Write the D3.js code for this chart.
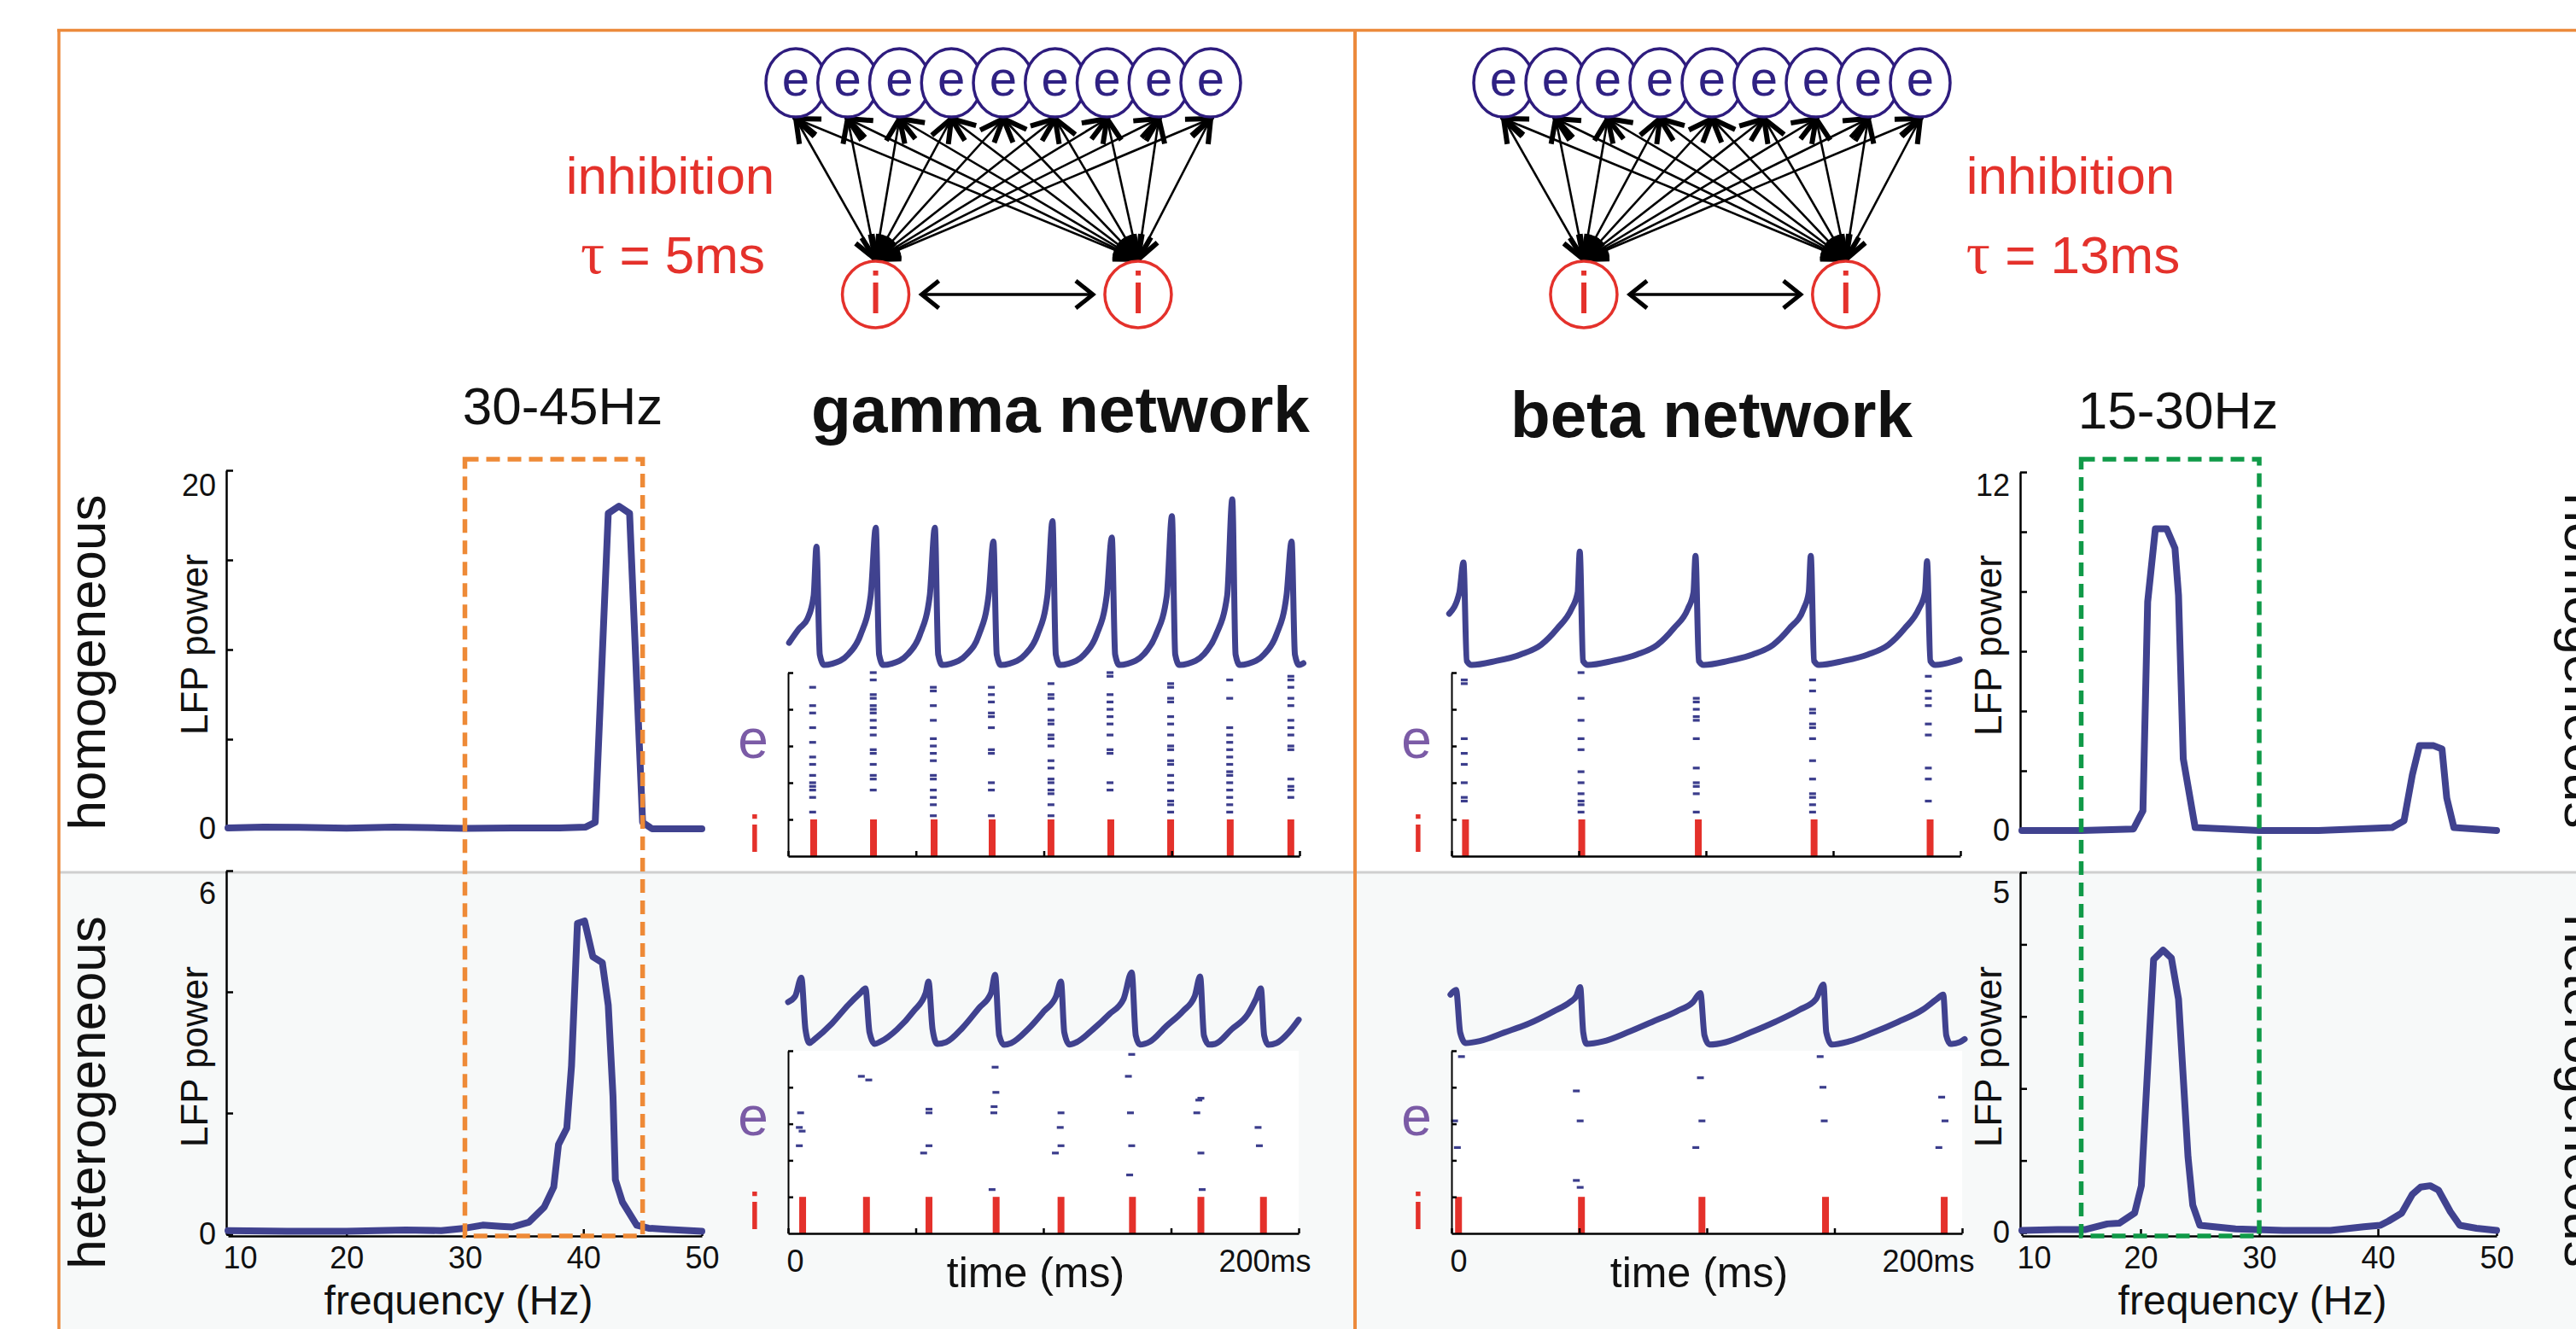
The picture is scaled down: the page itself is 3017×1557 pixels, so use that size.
<!DOCTYPE html>
<html><head><meta charset="utf-8">
<script src="https://cdn.jsdelivr.net/npm/d3@7"></script>
<style>
html,body{margin:0;padding:0;background:#fff;}
svg{display:block;}
</style></head><body>
<svg id="fig" width="3017" height="1557"></svg>
<script>
// ================= DATA =================
const freqTicks = [10, 20, 30, 40, 50];
const gammaBand = [30, 45];
const betaBand = [15, 30];
const bandLabels = ["30-45Hz", "15-30Hz"];
const netTitles = ["gamma network", "beta network"];
const rowLabels = ["homogeneous", "heterogeneous"];
const inhibitionLabel = "inhibition";
const tauValues = ["5ms", "13ms"];
const eCells = ["e","e","e","e","e","e","e","e","e"];
const iCells = ["i","i"];

// LFP power spectra: [frequency (Hz), power]
const specGammaHom = [[10,0.05],[13,0.1],[16,0.08],[20,0.04],[24,0.1],[28,0.05],[30,0.02],[34,0.05],[38,0.05],[40.2,0.1],[41,0.36],[42.1,17.6],[43,18],[43.9,17.6],[45,0.36],[45.8,0],[50,0]];
const specBetaHom = [[10,0],[15,0],[19.4,0.05],[20.2,0.66],[20.6,7.65],[21.25,10.1],[22.2,10.1],[22.9,9.45],[23.2,7.87],[23.6,2.4],[24.6,0.1],[30,0],[35,0],[41.2,0.1],[42.2,0.33],[42.9,1.86],[43.5,2.84],[44.7,2.84],[45.4,2.73],[45.8,1.09],[46.4,0.1],[50,0]];
const specGammaHet = [[10,0.06],[15,0.05],[20,0.05],[25,0.07],[28,0.06],[30,0.1],[31.5,0.15],[33,0.13],[34,0.12],[35.4,0.2],[36.7,0.45],[37.5,0.78],[37.9,1.48],[38.6,1.75],[39,2.78],[39.5,5.13],[40.1,5.17],[40.8,4.58],[41.6,4.48],[42.1,3.78],[42.5,2.28],[42.7,0.9],[43.3,0.53],[44.5,0.15],[45.5,0.1],[47,0.08],[50,0.05]];
const specBetaHet = [[10,0.03],[13,0.04],[15.3,0.04],[17.2,0.12],[18.2,0.13],[19.5,0.27],[20.07,0.65],[20.4,1.68],[21.1,3.79],[21.9,3.92],[22.6,3.81],[23.2,3.24],[24.0,1.05],[24.4,0.38],[25.0,0.1],[28,0.05],[32,0.03],[36,0.03],[38.8,0.08],[40.2,0.1],[40.9,0.16],[42.0,0.27],[42.9,0.53],[43.6,0.63],[44.4,0.65],[45.1,0.59],[46.1,0.29],[46.9,0.1],[48.3,0.06],[50,0.03]];

const yTicksGammaHom = [0,5,10,15,20];
const yTicksBetaHom = [0,2,4,6,8,10,12];
const yTicksGammaHet = [0,2,4,6];
const yTicksBetaHet = [0,1,2,3,4,5];

// time axes
const timeTicks = [0, 50, 100, 150, 200];
const timeTickLabels = ["0", "", "", "", "200ms"];
const rasterTicks = [10, 20, 30, 40, 50];
const iBand = [0, 10];

// LFP traces: [time (ms), LFP (a.u.)]
const lfpGammaHom = [[0.4,13.5],[4.4,21.9],[7.6,27.6],[10.0,41],[11.1,69.8],
[12.4,6.6],[14.0,0.5],[17.2,1.2],[23.5,6.6],[28.3,18],[32.3,41],[34.3,80.9],
[35.6,6.6],[37.2,0.5],[40.4,1.2],[46.7,6.6],[51.5,18],[55.4,41],[57.4,80.9],
[58.7,6.6],[60.3,0.5],[63.5,1.2],[69.8,6.6],[74.6,18],[78.4,41],[80.3,72.7],
[81.6,6.6],[83.2,0.5],[86.4,1.2],[92.7,6.6],[97.5,18],[101.4,41],[103.4,84.7],
[104.7,6.6],[106.3,0.5],[109.5,1.2],[115.8,6.6],[120.6,18],[124.6,41],[126.6,75.1],
[127.9,6.6],[129.5,0.5],[132.7,1.2],[139.0,6.6],[143.8,18],[148.1,41],[150.1,87.6],
[151.4,6.6],[153.0,0.5],[156.2,1.2],[162.5,6.6],[167.3,18],[171.7,41],[173.7,97.5],
[175.0,6.6],[176.6,0.5],[179.8,1.2],[186.1,6.6],[190.9,18],[194.9,41],[196.9,72.7],
[198.2,6.6],[199.8,0.5],[201.5,1.5]];
const lfpBetaHom = [[-0.9,30.5],[3.1,43],[4.7,60.5],
[6.0,2.8],[7.9,0.5],[17.5,2.8],[27.2,6.6],[35.2,12.3],[41.6,21.9],[47.2,33.4],[49.6,43],[50.4,66.9],
[51.7,2.8],[53.6,0.5],[63.2,2.8],[72.9,6.6],[80.9,12.3],[87.3,21.9],[92.9,33.4],[95.1,43],[95.9,64.4],
[97.2,2.8],[99.1,0.5],[108.7,2.8],[118.4,6.6],[126.4,12.3],[132.8,21.9],[138.4,33.4],[140.4,43],[141.2,64.4],
[142.5,2.8],[144.4,0.5],[154.0,2.8],[163.7,6.6],[171.7,12.3],[178.1,21.9],[183.7,33.4],[186.1,43],[186.9,61.2],
[188.2,2.8],[190.1,0.5],[199.7,3.7]];
const lfpGammaHet = [[0,25],[2.8,28.5],[5.2,39.2],[6.8,9],[8.4,1],[10,2.8],[17.2,12.5],[23.5,23.2],[28.3,30.3],[30.3,33],
[31.9,7.2],[33.9,0.5],[36.3,1.9],[42.7,9],[49.1,19.6],[53.9,30.3],[55,37],
[56.6,9],[58.4,0.5],[61.9,1.5],[68.3,9.9],[74.7,21.4],[79.5,30.3],[81.1,41],
[82.7,5.4],[84.6,0],[87.4,1],[93.9,9],[100.2,19.6],[105,28.5],[106.9,37],
[108.2,7.2],[110.2,0.1],[113,1.5],[119.4,9],[125.8,17.9],[131.4,26.8],[134.6,42.4],
[136.2,5.4],[137.8,0.1],[141.8,1.9],[148.1,10.8],[154.6,19.6],[159.3,28.5],[161.4,40],
[162.9,5.4],[164.9,0.1],[167.3,0.5],[173.7,9],[180.1,17.9],[183.3,26.8],[185.2,33],
[186.5,5.4],[188.1,0],[191.3,1],[196.1,7.2],[200,14.7]];
const lfpBetaHet = [[-0.4,29.4],[1.8,32.1],[3.4,7.2],[5.5,1],[11.1,2.2],[20.7,7.2],[30.4,12.5],[40,19.6],[46.4,25],[48.9,28.5],[50.4,33.8],
[51.6,7.2],[52.9,0.5],[59.3,1.9],[68.9,7.2],[78.6,13.4],[88.2,19.6],[94.6,25],[97.5,30.3],
[99.1,5.4],[101,0.1],[107.4,1.5],[117.1,7.2],[126.7,13.4],[136.3,20.5],[142.8,26.8],[145.7,35.3],
[146.8,7.2],[148.9,0.1],[155.6,1.9],[165.2,7.2],[174.9,13.4],[184.5,20.5],[190.1,26.8],[192.6,29.4],
[193.8,5.4],[195.4,0.5],[199,1.5],[201,3.3]];

// inhibitory population spikes (ms)
const iSpikesGammaHom = [10.0, 33.4, 57.1, 79.8, 102.8, 126.2, 149.6, 172.9, 196.6];
const iSpikesBetaHom = [5.5, 51.2, 97.0, 142.5, 188.1];
const iSpikesGammaHet = [5.7, 30.7, 55.2, 81.5, 106.9, 134.9, 161.7, 186.2];
const iSpikesBetaHet = [2.75, 50.9, 98.1, 146.5, 193.0];

// excitatory spikes, homogeneous: per volley, time (ms) and cell indices
const eVolleysGammaHom = [
 {t:9.6, cells:[46,41,39,35,31,27,25,22,20,19,18,16,12]},
 {t:33.3, cells:[50,48,44,43,41,40,39,37,35,33,29,28,25,22,21,18]},
 {t:56.8, cells:[46,45,41,37,32,30,28,26,22,21,18,16,14,11]},
 {t:79.5, cells:[46,44,42,39,38,35,29,28,20,18,11]},
 {t:102.8, cells:[47,44,43,40,37,36,33,32,30,26,24,21,20,18,17,14,11]},
 {t:125.9, cells:[50,49,44,42,40,38,36,33,29,28,20,18]},
 {t:149.6, cells:[47,46,43,42,38,36,33,30,29,26,25,22,20,18,15,14,12]},
 {t:172.7, cells:[48,43,35,33,31,29,27,25,23,22,20,18,16,14,12]},
 {t:196.6, cells:[49,48,46,43,41,37,35,33,30,29,21,19,18,16]}
];
const eVolleysBetaHom = [
 {t:5.0, cells:[48,47,32,28,25,20,16,15]},
 {t:50.9, cells:[50,43,37,32,29,23,20,17,15,14,12]},
 {t:96.2, cells:[43,42,40,38,37,32,24,20,19,17,12]},
 {t:141.9, cells:[48,45,40,39,36,35,32,26,21,17,16,14,12]},
 {t:187.4, cells:[49,45,43,41,36,33,24,21,15]}
];
// excitatory spikes, heterogeneous: [time (ms), cell]
const eSpikesGammaHet = [[4.9,33],[4.4,29],[5.5,28],[4.4,24],[28.7,43],[31.6,42],[55.2,34],[55.2,33],[55.2,24],[53.1,22],
 [81.1,45.5],[81.4,38.6],[80.7,34.7],[80.6,33],[79.9,12],[106.9,33],[106.6,29],[106.9,24],[104.7,22],
 [134.6,49],[133.3,43],[134.1,33],[134.6,24],[133.8,16],[160.9,36.5],[161.7,37],[160.1,33],[161.7,22],[162.2,12],
 [184.1,29],[184.6,24]];
const eSpikesBetaHet = [[3.9,48.4],[1.2,30.8],[2.3,23.5],[48.9,39],[50.4,30.8],[48.9,14.5],[50.4,12.6],
 [97.5,42.6],[98.1,30.8],[95.7,23.5],[144.4,48.4],[145.5,40],[146,30.8],[192,37.3],[193.3,30.8],[190.9,23.5]];

// ================= DRAWING =================
const FONT = "'Liberation Sans', Arial, Helvetica, sans-serif";
const COL = {line:"#40428f", dash:"#3b3d8c", red:"#e4312b", orange:"#ee8a37", green:"#109a48",
             purple:"#7b5ba6", eNode:"#2e1c7e", eText:"#2f2183", frame:"#ec8a3c", sep:"#cfcfcf"};

const svg = d3.select("#fig").attr("font-family", FONT);
svg.append("rect").attr("width", 3017).attr("height", 1557).attr("fill", "#fff");
svg.append("rect").attr("x", 69).attr("y", 1022).attr("width", 2948).attr("height", 535).attr("fill", "#f7f9f9");
svg.append("line").attr("x1", 69).attr("x2", 3017).attr("y1", 1022).attr("y2", 1022)
   .attr("stroke", COL.sep).attr("stroke-width", 3);

const defs = svg.append("defs");
defs.append("marker").attr("id", "ah").attr("viewBox", "-4 -16 36 32").attr("refX", 28).attr("refY", 0)
  .attr("markerWidth", 36).attr("markerHeight", 32).attr("markerUnits", "userSpaceOnUse")
  .attr("orient", "auto-start-reverse")
  .append("path").attr("d", "M0,-11L28,0L0,11").attr("fill", "none").attr("stroke", "#000")
  .attr("stroke-width", 6).attr("stroke-linejoin", "miter");
defs.append("marker").attr("id", "chev").attr("viewBox", "-4 -20 30 40").attr("refX", 20).attr("refY", 0)
  .attr("markerWidth", 30).attr("markerHeight", 40).attr("markerUnits", "userSpaceOnUse")
  .attr("orient", "auto-start-reverse")
  .append("path").attr("d", "M0,-16L20,0L0,16").attr("fill", "none").attr("stroke", "#000").attr("stroke-width", 5);

function styleAxis(sel, fs) {
  sel.attr("font-size", fs).attr("font-family", FONT);
  sel.select(".domain").attr("stroke", "#000").attr("stroke-width", 2.5);
  sel.selectAll(".tick line").attr("stroke", "#000").attr("stroke-width", 2.5);
  sel.selectAll(".tick text").attr("fill", "#111");
}

function drawSpectrum(p) {
  const x = d3.scaleLinear().domain(d3.extent(freqTicks)).range(p.xr);
  const yMax = d3.max(p.yTicks);
  const y = d3.scaleLinear().domain([0, yMax]).range(p.yr);
  const g = svg.append("g");
  const ay = g.append("g").attr("transform", `translate(${p.xr[0] - 2},0)`)
    .call(d3.axisLeft(y).tickValues(p.yTicks).tickSize(-8).tickSizeOuter(0).tickPadding(12)
      .tickFormat(d => (d === 0 || d === yMax) ? d : ""));
  styleAxis(ay, 36);
  ay.selectAll(".tick text").filter(d => d === yMax).attr("dy", p.topDy);
  if (p.xAxisY) {
    const ax = g.append("g").attr("transform", `translate(0,${p.xAxisY})`)
      .call(d3.axisBottom(x).tickValues(freqTicks).tickSize(-8).tickSizeOuter(0).tickPadding(12));
    styleAxis(ax, 36);
    ax.selectAll(".tick text").filter(d => d === freqTicks[0]).attr("dx", 14);
    g.append("text").attr("x", p.xLabelX).attr("y", 1540).attr("text-anchor", "middle")
      .attr("font-size", 48).attr("fill", "#111").text("frequency (Hz)");
  }
  g.append("text").attr("transform", `translate(${p.xr[0] - 24},${p.labelY}) rotate(-90)`)
    .attr("text-anchor", "middle").attr("font-size", 44).attr("fill", "#111").text("LFP power");
  g.append("path").datum(p.data).attr("fill", "none").attr("stroke", COL.line).attr("stroke-width", 8)
    .attr("stroke-linejoin", "round").attr("stroke-linecap", "round")
    .attr("d", d3.line().x(d => x(d[0])).y(d => y(d[1])));
  return x;
}

function drawTimePanel(p) {
  const x = d3.scaleLinear().domain(d3.extent(timeTicks)).range(p.xr);
  const yv = d3.scaleLinear().domain([0, 100]).range(p.lfpYr);
  const yr = d3.scaleLinear().domain([0, d3.max(rasterTicks)]).range(p.rasterYr);
  const g = svg.append("g");
  if (p.bg) g.append("rect").attr("x", p.xr[0]).attr("y", p.rasterYr[1]).attr("width", p.xr[1] - p.xr[0])
      .attr("height", p.rasterYr[0] - p.rasterYr[1]).attr("fill", "#fff");
  g.selectAll("rect.espk").data(p.eSpikes).join("rect").attr("class", "espk")
    .attr("x", d => x(d[0]) - 4).attr("y", d => yr(d[1]) - 1.6).attr("width", 8).attr("height", 3.2)
    .attr("fill", COL.dash);
  g.selectAll("rect.ispk").data(p.iSpikes).join("rect").attr("class", "ispk")
    .attr("x", d => x(d) - 4).attr("y", yr(iBand[1])).attr("width", 8)
    .attr("height", yr(iBand[0]) - yr(iBand[1])).attr("fill", COL.red);
  const ay = g.append("g").attr("transform", `translate(${p.xr[0]},0)`)
    .call(d3.axisLeft(yr).tickValues(rasterTicks).tickSize(-6).tickSizeOuter(0).tickFormat(""));
  styleAxis(ay, 36);
  ay.select(".domain").attr("stroke-width", 2);
  const ax = g.append("g").attr("transform", `translate(0,${p.rasterYr[0]})`)
    .call(d3.axisBottom(x).tickValues(timeTicks).tickSize(-6).tickSizeOuter(0).tickPadding(19)
      .tickFormat((d, k) => p.showTime ? timeTickLabels[k] : ""));
  styleAxis(ax, 36);
  if (p.showTime) {
    ax.selectAll(".tick text").filter((d, k) => k === 0).attr("dx", 8);
    ax.selectAll(".tick text").filter((d, k) => k === timeTicks.length - 1).attr("text-anchor", "end").attr("dx", 14);
    g.append("text").attr("x", (p.xr[0] + p.xr[1]) / 2 - 9).attr("y", 1508).attr("text-anchor", "middle")
      .attr("font-size", 50).attr("fill", "#111").text("time (ms)");
  }
  g.append("path").datum(p.lfp).attr("fill", "none").attr("stroke", COL.line).attr("stroke-width", 7)
    .attr("stroke-linejoin", "round").attr("stroke-linecap", "round")
    .attr("d", d3.line().curve(d3.curveMonotoneX).x(d => x(d[0])).y(d => yv(d[1])));
  g.append("text").attr("x", p.xr[0] - 41).attr("y", yr(0) - 115).attr("text-anchor", "middle")
    .attr("font-size", 64).attr("fill", COL.purple).text("e");
  g.append("text").attr("x", p.xr[0] - 39).attr("y", yr(0) - 5).attr("text-anchor", "middle")
    .attr("font-size", 62).attr("fill", COL.red).text("i");
}

function drawNetwork(p) {
  const NET = {ey: 97, erx: 35, ery: 40, iy: 345, ir: 39};
  const ex = d3.scaleLinear().domain([0, eCells.length - 1]).range(p.eRange);
  const g = svg.append("g");
  const ePts = eCells.map((c, k) => ({c, x: ex(k)}));
  const iPts = iCells.map((c, k) => ({c, x: ex(p.iPos[k])}));
  const links = iPts.flatMap(a => ePts.map(b => ({a, b})));
  g.selectAll("line.link").data(links).join("line").attr("class", "link")
    .attr("x1", d => d.a.x).attr("y1", NET.iy - NET.ir - 2).attr("x2", d => d.b.x).attr("y2", NET.ey + NET.ery + 2)
    .attr("stroke", "#000").attr("stroke-width", 2.6)
    .attr("marker-start", "url(#ah)").attr("marker-end", "url(#ah)");
  g.append("line").attr("x1", iPts[0].x + NET.ir + 15).attr("x2", iPts[1].x - NET.ir - 14)
    .attr("y1", NET.iy).attr("y2", NET.iy).attr("stroke", "#000").attr("stroke-width", 3.5)
    .attr("marker-start", "url(#chev)").attr("marker-end", "url(#chev)");
  const en = g.selectAll("g.enode").data(ePts).join("g").attr("class", "enode");
  en.append("ellipse").attr("cx", d => d.x).attr("cy", NET.ey).attr("rx", NET.erx).attr("ry", NET.ery)
    .attr("fill", "#fff").attr("stroke", COL.eNode).attr("stroke-width", 3.5);
  en.append("text").attr("x", d => d.x).attr("y", NET.ey + 15).attr("text-anchor", "middle")
    .attr("font-size", 58).attr("fill", COL.eText).text(d => d.c);
  const inn = g.selectAll("g.inode").data(iPts).join("g").attr("class", "inode");
  inn.append("circle").attr("cx", d => d.x).attr("cy", NET.iy).attr("r", NET.ir)
    .attr("fill", "#fff").attr("stroke", COL.red).attr("stroke-width", 3.5);
  inn.append("text").attr("x", d => d.x).attr("y", NET.iy + 22).attr("text-anchor", "middle")
    .attr("font-size", 68).attr("fill", COL.red).text(d => d.c);
  g.append("text").attr("x", p.textX).attr("y", 227).attr("text-anchor", "middle")
    .attr("font-size", 62).attr("fill", COL.red).text(inhibitionLabel);
  const t = g.append("text").attr("x", p.textX + 3).attr("y", 320).attr("text-anchor", "middle")
    .attr("font-size", 62).attr("fill", COL.red);
  t.append("tspan").attr("font-family", "'Liberation Serif', 'DejaVu Serif', serif").attr("font-size", 70).text("τ");
  t.append("tspan").text(" = " + p.tau);
}

// ---- networks ----
drawNetwork({eRange: [932, 1418], iPos: [1.54, 6.6], textX: 785, tau: tauValues[0]});
drawNetwork({eRange: [1761, 2249], iPos: [1.54, 6.57], textX: 2425, tau: tauValues[1]});

// ---- headers ----
svg.append("text").attr("x", 659).attr("y", 497).attr("text-anchor", "middle").attr("font-size", 62)
  .attr("fill", "#111").text(bandLabels[0]);
svg.append("text").attr("x", 2551).attr("y", 502).attr("text-anchor", "middle").attr("font-size", 62)
  .attr("fill", "#111").text(bandLabels[1]);
svg.append("text").attr("x", 950).attr("y", 506).attr("font-size", 76).attr("font-weight", "bold")
  .attr("textLength", 584).attr("lengthAdjust", "spacingAndGlyphs").attr("fill", "#111").text(netTitles[0]);
svg.append("text").attr("x", 1769).attr("y", 512).attr("font-size", 76).attr("font-weight", "bold")
  .attr("textLength", 471).attr("lengthAdjust", "spacingAndGlyphs").attr("fill", "#111").text(netTitles[1]);

// ---- row labels ----
[[776, 0], [1280, 1]].forEach(([cy, k]) => {
  svg.append("text").attr("transform", `translate(123,${cy}) rotate(-90)`).attr("text-anchor", "middle")
    .attr("font-size", 62).attr("fill", "#111").text(rowLabels[k]);
  svg.append("text").attr("transform", `translate(3004,${cy - 2}) rotate(90)`).attr("text-anchor", "middle")
    .attr("font-size", 62).attr("fill", "#111").text(rowLabels[k]);
});

// ---- spectra ----
const xGamma = drawSpectrum({data: specGammaHom, xr: [267, 822], yr: [971, 551], yTicks: yTicksGammaHom, topDy: 18 + 0.32 * 36, labelY: 755});
drawSpectrum({data: specGammaHet, xr: [267, 822], yr: [1446, 1020], yTicks: yTicksGammaHet, topDy: 27 + 0.32 * 36, labelY: 1238, xAxisY: 1448, xLabelX: 537});
const xBeta = drawSpectrum({data: specBetaHom, xr: [2368, 2924], yr: [973, 553], yTicks: yTicksBetaHom, topDy: 16 + 0.32 * 36, labelY: 756});
drawSpectrum({data: specBetaHet, xr: [2368, 2924], yr: [1444, 1022], yTicks: yTicksBetaHet, topDy: 24 + 0.32 * 36, labelY: 1238, xAxisY: 1448, xLabelX: 2638});

// ---- band boxes ----
[[xGamma, gammaBand, COL.orange], [xBeta, betaBand, COL.green]].forEach(([x, band, c]) => {
  svg.append("rect").attr("x", x(band[0])).attr("y", 538).attr("width", x(band[1]) - x(band[0]))
    .attr("height", 1448 - 538).attr("fill", "none").attr("stroke", c).attr("stroke-width", 5.5)
    .attr("stroke-dasharray", "16 9");
});

// ---- time panels ----
const flatten = v => v.flatMap(o => o.cells.map(n => [o.t, n]));
drawTimePanel({xr: [923, 1522], lfpYr: [780, 580], rasterYr: [1003, 788], lfp: lfpGammaHom,
  iSpikes: iSpikesGammaHom, eSpikes: flatten(eVolleysGammaHom), showTime: false});
drawTimePanel({xr: [1700, 2296], lfpYr: [780, 580], rasterYr: [1003, 788], lfp: lfpBetaHom,
  iSpikes: iSpikesBetaHom, eSpikes: flatten(eVolleysBetaHom), showTime: false});
drawTimePanel({xr: [923, 1521], lfpYr: [1224, 1024], rasterYr: [1445, 1231], lfp: lfpGammaHet,
  iSpikes: iSpikesGammaHet, eSpikes: eSpikesGammaHet, showTime: true, bg: true});
drawTimePanel({xr: [1700, 2298], lfpYr: [1224, 1024], rasterYr: [1445, 1231], lfp: lfpBetaHet,
  iSpikes: iSpikesBetaHet, eSpikes: eSpikesBetaHet, showTime: true, bg: true});

// ---- frame ----
svg.append("line").attr("x1", 67).attr("x2", 3017).attr("y1", 35.5).attr("y2", 35.5).attr("stroke", COL.frame).attr("stroke-width", 3.5);
svg.append("line").attr("x1", 69).attr("x2", 69).attr("y1", 34).attr("y2", 1557).attr("stroke", COL.frame).attr("stroke-width", 3.5);
svg.append("line").attr("x1", 1587).attr("x2", 1587).attr("y1", 34).attr("y2", 1557).attr("stroke", COL.frame).attr("stroke-width", 4);
</script></body></html>
